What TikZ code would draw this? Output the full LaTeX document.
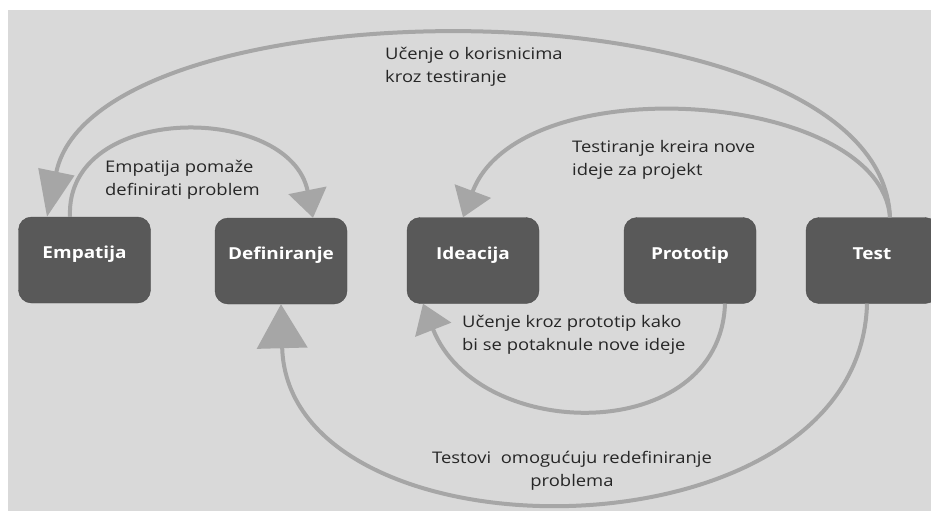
\documentclass[tikz,border=0pt]{standalone}
\usepackage{fontspec}
\setmainfont[FakeStretch=1.15]{Open Sans}
\usepackage{tikz}
\usetikzlibrary{positioning,arrows.meta}
\definecolor{colorback}  {RGB}{217,217,217}
\definecolor{colorbox}   {RGB}{ 89, 89, 89}
\definecolor{colorarrow} {RGB}{166,166,166}
\definecolor{colortext}  {RGB}{ 38, 38, 38}

\begin{document}
\begin{tikzpicture}[
    x=1pt, y=-1pt,
    stage/.style={fill=colorbox,draw=colorbox!85!black,rounded corners=13pt,
        minimum width=132pt,minimum height=86pt,inner sep=0pt,
        text=white,font={\fontsize{16.5}{19}\selectfont\bfseries},
        text height=12pt,text depth=15pt},
    note/.style={text=colortext,font={\fontsize{16}{23}\selectfont},
        align=left,inner sep=0pt,anchor=north west},
    feedback/.style={colorarrow,line width=4pt},
    bigtip/.style={-{Triangle[width=50pt,length=44pt]}},
    talltip/.style={-{Triangle[width=36pt,length=46pt]}},
    smalltip/.style={-{Triangle[width=38pt,length=28pt]}},
]

    % Frame
    \useasboundingbox (0,0) rectangle (931,511);
    \clip (0,0) rectangle (931,511);
    \fill[colorback] (8,10) rectangle (931,511);

    % Stages
    \node[stage] (emp) at (84.5,260)  {Empatija};
    \node[stage] (def) at (281,261)   {Definiranje};
    \node[stage] (ide) at (473,260.5) {Ideacija};
    \node[stage] (pro) at (690,260.5) {Prototip};
    \node[stage] (tes) at (872,260.5) {Test};

    % Labels
    \node[note] (lbltop)   at (385,47)  {Učenje o korisnicima\\kroz testiranje};
    \node[note] (lblemp)   at (105,160) {Empatija pomaže\\definirati problem};
    \node[note] (lbltest)  at (572,140) {Testiranje kreira nove\\ideje za projekt};
    \node[note] (lblproto) at (462,315) {Učenje kroz prototip kako\\bi se potaknule nove ideje};
    \node[note,anchor=north,align=center] (lblredef) at (572,451)
        {Testovi\ \ omogućuju redefiniranje\\problema};

    % Arrows
    \draw[feedback,talltip] ([xshift=18pt]tes.north) .. controls +(-10,-240) and +(50,-240) .. ([xshift=-37.5pt]emp.north); % test to empatija
    \draw[feedback,smalltip] ([xshift=18pt]tes.north) .. controls +(-10,-127) and +(57,-152) .. ([xshift=-10pt]ide.north); % test to ideacija
    \draw[feedback,smalltip] ([xshift=-14.5pt]emp.north) .. controls +(-5,-115) and +(-23,-115) .. ([xshift=32pt]def.north); % empatija to definiranje
    \draw[feedback,smalltip] ([xshift=35pt]pro.south) .. controls +(-5,142) and +(55,140) .. ([xshift=-50pt]ide.south); % prototip to ideacija
    \draw[feedback,bigtip] ([xshift=-5pt]tes.south) .. controls +(-7,262) and +(7,262) .. (def.south); % test to definiranje

\end{tikzpicture}
\end{document}
